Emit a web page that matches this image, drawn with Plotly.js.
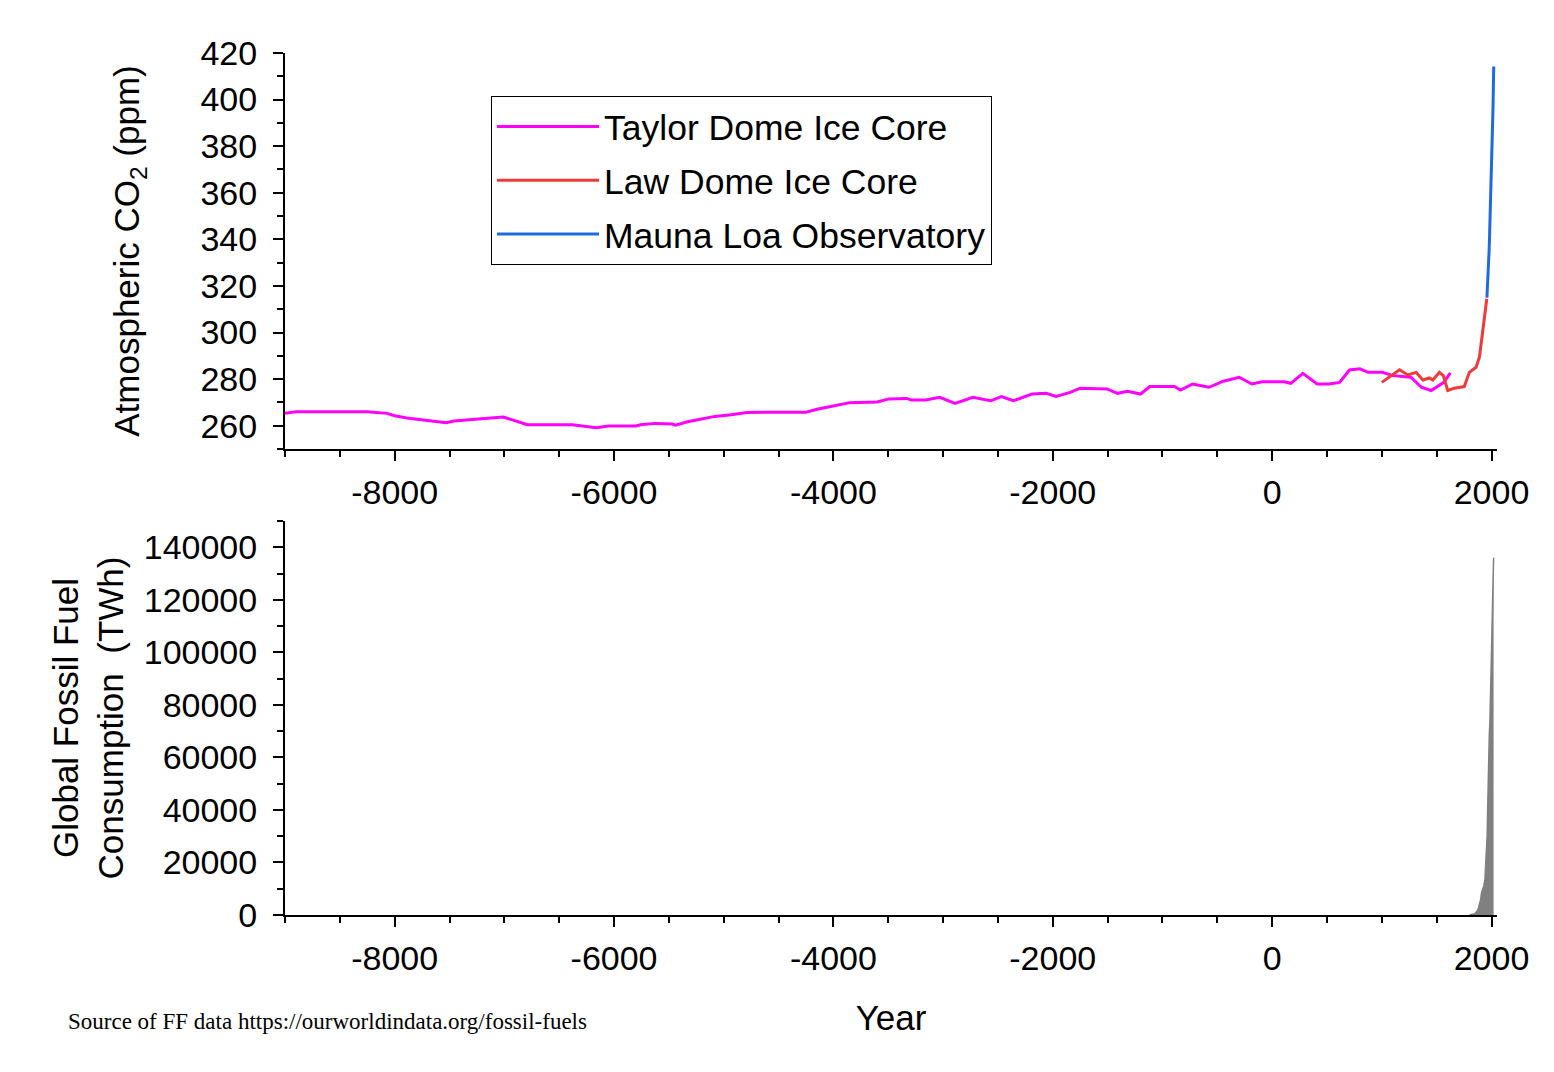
<!DOCTYPE html>
<html>
<head>
<meta charset="utf-8">
<script src="https://cdn.plot.ly/plotly-3.0.1.min.js"></script>
<style>
html, body { margin: 0; padding: 0; background: #ffffff; }
#chart { width: 1554px; height: 1072px; }
</style>
</head>
<body>
<div id="chart"></div>
<script>
// ---- Taylor Dome Ice Core (year, CO2 ppm) ----
const taylorYear = [-9000,-8900,-8690,-8250,-8070,-8000,-7890,-7780,-7675,-7530,
  -7460,-7310,-7170,-7010,-6920,-6790,-6380,-6300,-6160,-6050,
  -5800,-5760,-5620,-5470,-5440,-5330,-5190,-5080,-4930,-4790,
  -4250,-4140,-3990,-3850,-3600,-3495,-3330,-3290,-3160,-3030,
  -2890,-2730,-2565,-2470,-2360,-2190,-2060,-1970,-1840,-1750,
  -1505,-1410,-1320,-1200,-1115,-890,-835,-725,-575,-445,
  -300,-185,-90,110,170,280,410,520,615,705,
  800,875,1005,1100,1265,1360,1450,1565,1625];
const taylorPPM = [265.3,266.0,266.0,266.0,265.3,264.3,263.3,262.7,262.2,261.3,
  262.0,262.6,263.0,263.7,262.4,260.4,260.4,259.9,259.1,259.9,
  259.9,260.4,261.0,260.7,260.2,261.7,262.9,264.0,264.7,265.7,
  265.8,267.2,268.6,269.9,270.2,271.5,271.7,271.0,271.0,272.2,
  269.6,272.2,270.7,272.5,270.7,273.6,273.9,272.6,274.3,276.1,
  275.8,273.9,274.8,273.6,276.8,276.8,275.3,277.9,276.5,279.1,
  280.8,277.9,278.9,278.9,278.2,282.5,277.9,277.9,278.6,283.9,
  284.4,282.9,282.9,281.5,280.8,276.5,275.1,278.6,282.7];

// ---- Law Dome Ice Core ----
const lawYear = [1000,1161,1237,1313,1374,1434,1465,1525,1561,1601,1661,1752,1798,1859,1890,1914,1935,1957];
const lawPPM  = [278.6,284.0,281.8,282.9,279.6,280.5,279.6,282.9,281.5,275.1,276.1,276.8,282.9,285.1,289.4,299.4,308.0,314.5];

// ---- Mauna Loa Observatory ----
const maunaYear = [1958,1962,1966,1970,1974,1978,1982,1986,1990,1994,1998,2002,2006,2010,2014,2018,2020];
const maunaPPM  = [315.0,318.0,321.0,325.7,330.0,335.0,341.0,347.0,354.0,358.8,366.7,373.0,381.9,389.9,397.1,408.7,414.2];

// ---- Global fossil fuel consumption (TWh) ----
const ffYear = [1800,1810,1820,1830,1840,1850,1860,1870,1880,1890,1900,1910,1920,1930,1940,1950,1960,1965,1970,1975,1980,1985,1990,1995,2000,2005,2010,2015,2019];
const ffTWh  = [97,128,153,264,356,569,1061,1642,2542,3856,5728,8656,9763,11085,13739,20138,30000,40600,53000,59000,69000,73000,82000,86000,93000,107000,117000,129000,136000];

// ---- Tick labels ----
const yearTickVals = [-8000,-6000,-4000,-2000,0,2000];
const yearTickText = ['-8000','-6000','-4000','-2000','0','2000'];
const seriesNames = ['Taylor Dome Ice Core','Law Dome Ice Core','Mauna Loa Observatory'];

const traces = [
  {x: taylorYear, y: taylorPPM, type: 'scatter', mode: 'lines', name: seriesNames[0],
   line: {color: '#FF00FF', width: 3}, xaxis: 'x', yaxis: 'y', legendgroup: 'g1'},
  {x: lawYear, y: lawPPM, type: 'scatter', mode: 'lines', name: seriesNames[1],
   line: {color: '#F03A3A', width: 3}, xaxis: 'x', yaxis: 'y', legendgroup: 'g2'},
  {x: maunaYear, y: maunaPPM, type: 'scatter', mode: 'lines', name: seriesNames[2],
   line: {color: '#1F6BDD', width: 3}, xaxis: 'x', yaxis: 'y', legendgroup: 'g3'},
  {x: ffYear, y: ffTWh, type: 'scatter', mode: 'lines', fill: 'tozeroy',
   fillcolor: '#808080', line: {color: '#808080', width: 1.5},
   xaxis: 'x2', yaxis: 'y2', showlegend: false}
];

const axisCommon = {
  ticks: 'outside', ticklen: 10, tickwidth: 2, tickcolor: '#000',
  showline: true, linewidth: 2, linecolor: '#000',
  showgrid: false, zeroline: false,
  tickfont: {size: 34, color: '#000'}
};

const xCommon = Object.assign({}, axisCommon, {
  range: [-9000, 2050], tickmode: 'array', tickvals: yearTickVals, ticktext: yearTickText,
  ticklabelstandoff: 2,
  minor: {tickmode: 'linear', tick0: 0, dtick: 500, ticks: 'outside', ticklen: 6, tickwidth: 2, tickcolor: '#000', showgrid: false}
});

const layout = {
  width: 1554, height: 1072,
  margin: {l: 285, r: 57, t: 53, b: 157, pad: 0},
  paper_bgcolor: '#ffffff', plot_bgcolor: '#ffffff',
  font: {family: 'Liberation Sans, Arial, sans-serif', size: 34, color: '#000'},
  showlegend: true,
  legend: {x: 0.17, y: 0.9501, xanchor: 'left', yanchor: 'top',
    bordercolor: '#000', borderwidth: 1, bgcolor: '#ffffff',
    font: {size: 35.5, color: '#000'}, tracegroupgap: 4.5, itemwidth: 102},
  xaxis: Object.assign({}, xCommon, {domain: [0, 1], anchor: 'y'}),
  xaxis2: Object.assign({}, xCommon, {domain: [0, 1], anchor: 'y2',
    title: {text: 'Year', font: {size: 35, color: '#000'}, standoff: 30}}),
  yaxis: Object.assign({}, axisCommon, {domain: [0.5406, 1], anchor: 'x',
    range: [250, 420], tickmode: 'linear', tick0: 260, dtick: 20, ticklabelstandoff: 9,
    minor: {tickmode: 'linear', tick0: 250, dtick: 10, ticks: 'outside', ticklen: 6, tickwidth: 2, tickcolor: '#000', showgrid: false},
    title: {text: 'Atmospheric CO<sub>2</sub> (ppm)', font: {size: 35, color: '#000'}, standoff: 50}}),
  yaxis2: Object.assign({}, axisCommon, {domain: [0, 0.4571], anchor: 'x2',
    range: [0, 150000], tickmode: 'linear', tick0: 0, dtick: 20000, tickformat: 'd', ticklabelstandoff: 9,
    minor: {tickmode: 'linear', tick0: 0, dtick: 10000, ticks: 'outside', ticklen: 6, tickwidth: 2, tickcolor: '#000', showgrid: false},
    title: {text: 'Global Fossil Fuel<br>Consumption  (TWh)', font: {size: 35, color: '#000'}, standoff: 9}}),
  annotations: [{
    text: 'Source of FF data https://ourworldindata.org/fossil-fuels',
    xref: 'paper', yref: 'paper', x: -0.1807, y: -0.123,
    xanchor: 'left', yanchor: 'middle', showarrow: false,
    font: {family: 'Liberation Serif, Times New Roman, serif', size: 23, color: '#000'}
  }]
};

Plotly.newPlot('chart', traces, layout, {displayModeBar: false, staticPlot: true});
</script>
</body>
</html>
